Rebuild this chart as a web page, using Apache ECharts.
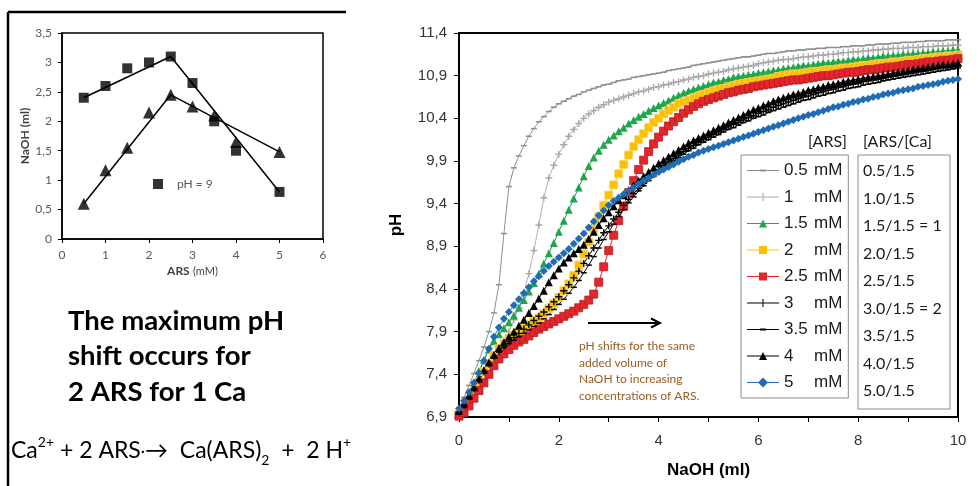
<!DOCTYPE html>
<html><head><meta charset="utf-8">
<script src="https://cdn.jsdelivr.net/npm/echarts/dist/echarts.min.js"></script>
<style>html,body{margin:0;padding:0;background:#fff}#c{width:978px;height:486px}</style>
</head><body><div id="c"></div><script>
// ---------- left small chart ----------
const arsMm = [0.5, 1, 1.5, 2, 2.5, 3, 3.5, 4, 5];
const naohAtPh9 = [2.4, 2.6, 2.9, 3.0, 3.1, 2.65, 2.0, 1.5, 0.8];
const naohTriangles = [0.6, 1.17, 1.55, 2.15, 2.45, 2.25, 2.1, 1.65, 1.48];
const fitX = [0.5, 2.5, 5];
const fitSquares = [2.4, 3.1, 0.8];
const fitTriangles = [0.6, 2.45, 1.48];

// ---------- right titration chart ----------
const naohMl = [0,0.1,0.2,0.3,0.4,0.5,0.6,0.7,0.8,0.9,1,1.1,1.2,1.3,1.4,1.5,1.6,1.7,1.8,1.9,2,2.1,2.2,2.3,2.4,2.5,2.6,2.7,2.8,2.9,3,3.1,3.2,3.3,3.4,3.5,3.6,3.7,3.8,3.9,4,4.1,4.2,4.3,4.4,4.5,4.6,4.7,4.8,4.9,5,5.1,5.2,5.3,5.4,5.5,5.6,5.7,5.8,5.9,6,6.1,6.2,6.3,6.4,6.5,6.6,6.7,6.8,6.9,7,7.1,7.2,7.3,7.4,7.5,7.6,7.7,7.8,7.9,8,8.1,8.2,8.3,8.4,8.5,8.6,8.7,8.8,8.9,9,9.1,9.2,9.3,9.4,9.5,9.6,9.7,9.8,9.9,10];
const ph05 = [7.00,7.13,7.27,7.41,7.56,7.72,7.90,8.12,8.45,9.05, 9.60,9.82,9.96,10.08,10.19,10.28,10.36,10.42,10.48,10.53, 10.57,10.60,10.63,10.66,10.68,10.71,10.73,10.75,10.77,10.79, 10.80,10.82,10.84,10.85,10.86,10.88,10.89,10.90,10.91,10.92, 10.93,10.94,10.96,10.97,10.98,10.99,11.00,11.02,11.03,11.04, 11.05,11.06,11.07,11.08,11.09,11.10,11.11,11.12,11.12,11.13, 11.14,11.15,11.16,11.16,11.17,11.18,11.19,11.19,11.20,11.20, 11.21,11.21,11.22,11.22,11.23,11.23,11.23,11.24,11.24,11.25, 11.25,11.25,11.26,11.26,11.27,11.27,11.27,11.28,11.28,11.29, 11.29,11.29,11.30,11.30,11.31,11.31,11.31,11.31,11.32,11.32, 11.32];
const ph1 = [6.96,7.03,7.10,7.17,7.24,7.32,7.41,7.50,7.62,7.76, 7.90,8.04,8.18,8.36,8.58,8.85,9.15,9.47,9.70,9.85, 9.98,10.09,10.19,10.27,10.34,10.40,10.45,10.49,10.53,10.56, 10.59,10.61,10.63,10.65,10.67,10.69,10.71,10.72,10.74,10.76, 10.77,10.79,10.80,10.82,10.83,10.85,10.86,10.88,10.89,10.90, 10.92,10.93,10.94,10.95,10.97,10.98,10.99,11.00,11.01,11.02, 11.04,11.05,11.06,11.07,11.08,11.09,11.09,11.10,11.11,11.12, 11.12,11.13,11.14,11.14,11.15,11.15,11.16,11.17,11.17,11.18, 11.18,11.19,11.19,11.20,11.20,11.21,11.21,11.22,11.22,11.22, 11.23,11.23,11.23,11.24,11.24,11.24,11.25,11.25,11.25,11.26, 11.26];
const ph15 = [6.95,7.02,7.15,7.30,7.44,7.57,7.69,7.79,7.87,7.94, 8.01,8.09,8.18,8.27,8.37,8.47,8.58,8.70,8.82,8.94, 9.07,9.20,9.33,9.46,9.59,9.72,9.84,9.94,10.02,10.09, 10.15,10.20,10.25,10.29,10.34,10.38,10.42,10.45,10.49,10.52, 10.55,10.58,10.61,10.64,10.67,10.70,10.72,10.74,10.76,10.78, 10.80,10.82,10.83,10.85,10.86,10.88,10.89,10.90,10.91,10.92, 10.93,10.94,10.95,10.96,10.97,10.98,10.99,11.00,11.01,11.02, 11.02,11.03,11.04,11.05,11.05,11.06,11.07,11.07,11.08,11.09, 11.09,11.10,11.11,11.11,11.12,11.13,11.13,11.14,11.14,11.15, 11.15,11.16,11.16,11.17,11.17,11.18,11.18,11.19,11.19,11.20, 11.20];
const ph2 = [6.93,6.98,7.06,7.19,7.31,7.43,7.53,7.62,7.70,7.76, 7.82,7.86,7.90,7.94,7.98,8.02,8.06,8.11,8.17,8.23, 8.30,8.38,8.46,8.56,8.68,8.81,8.95,9.10,9.25,9.38, 9.50,9.62,9.75,9.86,9.97,10.07,10.15,10.22,10.29,10.35, 10.40,10.45,10.49,10.53,10.57,10.59,10.61,10.64,10.66,10.68, 10.70,10.72,10.74,10.75,10.77,10.78,10.80,10.81,10.82,10.83, 10.84,10.85,10.86,10.87,10.89,10.90,10.91,10.92,10.92,10.93, 10.94,10.95,10.95,10.96,10.97,10.97,10.98,10.99,10.99,11.00, 11.01,11.02,11.02,11.03,11.04,11.04,11.05,11.06,11.06,11.07, 11.08,11.08,11.09,11.10,11.10,11.11,11.12,11.12,11.13,11.13, 11.14];
const ph25 = [6.91,6.95,7.03,7.12,7.21,7.30,7.40,7.50,7.58,7.64, 7.69,7.74,7.78,7.81,7.85,7.89,7.93,7.96,7.99,8.02, 8.05,8.08,8.11,8.14,8.18,8.22,8.27,8.34,8.48,8.66, 8.85,9.03,9.20,9.37,9.53,9.67,9.80,9.91,10.01,10.10, 10.18,10.25,10.31,10.36,10.41,10.46,10.50,10.54,10.57,10.60, 10.62,10.64,10.66,10.68,10.70,10.71,10.73,10.74,10.75,10.77, 10.78,10.79,10.80,10.81,10.82,10.83,10.84,10.85,10.85,10.86, 10.87,10.88,10.89,10.90,10.90,10.91,10.92,10.93,10.94,10.94, 10.95,10.96,10.97,10.97,10.98,10.99,11.00,11.00,11.01,11.02, 11.03,11.03,11.04,11.05,11.06,11.06,11.07,11.08,11.08,11.09, 11.10];
const ph3 = [6.96,7.04,7.13,7.23,7.33,7.43,7.52,7.60,7.67,7.73, 7.78,7.83,7.88,7.93,7.98,8.03,8.08,8.13,8.19,8.25, 8.31,8.38,8.45,8.53,8.61,8.70,8.79,8.88,8.97,9.06, 9.14,9.22,9.30,9.38,9.45,9.52,9.58,9.64,9.70,9.75, 9.80,9.85,9.89,9.93,9.97,10.01,10.05,10.08,10.12,10.15, 10.18,10.21,10.24,10.27,10.30,10.33,10.35,10.38,10.41,10.43, 10.46,10.48,10.50,10.53,10.55,10.57,10.59,10.61,10.63,10.65, 10.66,10.68,10.70,10.71,10.73,10.74,10.76,10.77,10.79,10.80, 10.81,10.83,10.84,10.85,10.86,10.87,10.89,10.90,10.91,10.92, 10.93,10.94,10.95,10.96,10.97,10.98,10.99,11.00,11.00,11.01, 11.02];
const ph35 = [6.95,7.03,7.12,7.22,7.32,7.42,7.51,7.59,7.66,7.71, 7.76,7.80,7.84,7.88,7.92,7.96,8.00,8.05,8.10,8.16, 8.22,8.28,8.35,8.42,8.50,8.59,8.68,8.78,8.88,8.98, 9.07,9.16,9.25,9.33,9.41,9.48,9.55,9.61,9.67,9.72, 9.77,9.82,9.86,9.90,9.94,9.98,10.02,10.05,10.09,10.12, 10.15,10.18,10.21,10.24,10.27,10.29,10.32,10.35,10.37,10.40, 10.42,10.44,10.47,10.49,10.51,10.53,10.55,10.57,10.59,10.61, 10.62,10.64,10.66,10.67,10.69,10.70,10.72,10.73,10.75,10.76, 10.77,10.79,10.80,10.81,10.82,10.84,10.85,10.86,10.87,10.88, 10.89,10.90,10.91,10.92,10.93,10.94,10.95,10.96,10.97,10.98, 10.99];
const ph4 = [6.97,7.05,7.15,7.25,7.35,7.45,7.54,7.63,7.71,7.78, 7.84,7.90,7.97,8.04,8.12,8.20,8.29,8.38,8.48,8.56, 8.64,8.71,8.77,8.82,8.87,8.92,8.99,9.07,9.15,9.23, 9.30,9.37,9.44,9.50,9.56,9.62,9.67,9.72,9.77,9.82, 9.87,9.91,9.95,9.99,10.03,10.07,10.11,10.14,10.17,10.20, 10.23,10.26,10.29,10.32,10.35,10.38,10.41,10.44,10.47,10.50, 10.52,10.55,10.57,10.60,10.62,10.64,10.66,10.68,10.69,10.71, 10.73,10.74,10.76,10.77,10.79,10.80,10.81,10.83,10.84,10.85, 10.86,10.87,10.88,10.89,10.90,10.91,10.92,10.93,10.94,10.95, 10.96,10.97,10.98,10.99,11.00,11.01,11.02,11.03,11.03,11.04, 11.05];
const ph5 = [7.00,7.09,7.19,7.30,7.42,7.56,7.70,7.84,7.95,8.05, 8.13,8.21,8.28,8.35,8.42,8.49,8.55,8.61,8.67,8.72, 8.77,8.82,8.87,8.93,8.99,9.05,9.12,9.19,9.26,9.32, 9.38,9.43,9.47,9.51,9.55,9.59,9.63,9.67,9.70,9.74, 9.77,9.80,9.83,9.86,9.89,9.92,9.95,9.97,10.00,10.02, 10.04,10.06,10.08,10.10,10.12,10.14,10.16,10.18,10.20,10.22, 10.24,10.26,10.28,10.30,10.32,10.34,10.36,10.38,10.40,10.42, 10.44,10.45,10.47,10.49,10.51,10.53,10.54,10.56,10.57,10.59, 10.60,10.62,10.63,10.65,10.66,10.68,10.69,10.70,10.72,10.73, 10.74,10.75,10.77,10.78,10.79,10.80,10.81,10.83,10.84,10.85, 10.86];

const seriesNames = ['0.5 mM', '1 mM', '1.5 mM', '2 mM', '2.5 mM', '3 mM', '3.5 mM', '4 mM', '5 mM'];
const ratioLabels = ['0.5/1.5', '1.0/1.5', '1.5/1.5 = 1', '2.0/1.5', '2.5/1.5', '3.0/1.5 = 2', '3.5/1.5', '4.0/1.5', '5.0/1.5'];
const textLines = ['The maximum pH', 'shift occurs for', '2 ARS for 1 Ca'];
const noteLines = ['pH shifts for the same', 'added volume of', 'NaOH to increasing', 'concentrations of ARS.'];

const phSeries = [ph05, ph1, ph15, ph2, ph25, ph3, ph35, ph4, ph5];

const PLUS = 'path://M4,0H6V4H10V6H6V10H4V6H0V4H4Z';
const LINE = 'M0,6.5H32V7.5H0Z';
const icons = {
  dash: 'path://' + LINE + 'M13,6H19V8H13Z',
  tick: 'path://' + LINE + 'M15.5,3H16.5V11H15.5Z',
  tri: 'path://' + LINE + 'M12,11L16,3L20,11Z',
  sq: 'path://' + LINE + 'M12,3H20V11H12Z',
  dia: 'path://' + LINE + 'M16,2L21,7L16,12L11,7Z'
};
const styles = [
  {line: '#8f8f8f', fill: '#8f8f8f', symbol: 'rect', size: [6, 1.5], icon: icons.dash},
  {line: '#b3b3b3', fill: '#a8a8a8', symbol: PLUS, size: 7, icon: icons.tick},
  {line: '#1e9e48', fill: '#1ea64b', symbol: 'triangle', size: 8, icon: icons.tri},
  {line: '#f2b800', fill: '#ffc000', border: '#f5d36a', symbol: 'rect', size: 8, icon: icons.sq},
  {line: '#d42a2a', fill: '#e3262b', border: '#b81a1f', symbol: 'rect', size: 8, icon: icons.sq},
  {line: '#000', fill: '#000', symbol: PLUS, size: 7, icon: icons.tick},
  {line: '#000', fill: '#000', symbol: 'rect', size: [6, 1.5], icon: icons.dash},
  {line: '#000', fill: '#000', symbol: 'triangle', size: 8, icon: icons.tri},
  {line: '#3f7fb8', fill: '#1f6cb3', symbol: 'diamond', size: 8, icon: icons.dia}
];

const chart = echarts.init(document.getElementById('c'), null, {renderer: 'canvas', width: 978, height: 486});

const rightSeries = seriesNames.map((name, k) => ({
  name, type: 'line', xAxisIndex: 1, yAxisIndex: 1, clip: false,
  data: naohMl.map((x, i) => [x, phSeries[k][i]]),
  symbol: styles[k].symbol, symbolSize: styles[k].size,
  itemStyle: {color: styles[k].fill, borderColor: styles[k].border || styles[k].fill, borderWidth: styles[k].border ? 0.8 : 0},
  lineStyle: {color: styles[k].line, width: 1},
  emphasis: {disabled: true}
}));

const graphics = [
  {type: 'line', shape: {x1: 8, y1: 12, x2: 346, y2: 12}, style: {stroke: '#000', lineWidth: 2.5}},
  {type: 'line', shape: {x1: 8, y1: 12, x2: 8, y2: 486}, style: {stroke: '#000', lineWidth: 2.5}},
  {type: 'rect', shape: {x: 858, y: 155, width: 92, height: 254}, style: {fill: 'none', stroke: '#8c8c8c', lineWidth: 1}},
  {type: 'text', x: 808, y: 142, style: {text: '[ARS]', font: '16px Lato', fill: '#1a1a1a', verticalAlign: 'middle'}},
  {type: 'text', x: 863, y: 142, style: {text: '[ARS/[Ca]', font: '16px Lato', fill: '#1a1a1a', verticalAlign: 'middle'}},
  {type: 'line', shape: {x1: 588, y1: 323, x2: 659, y2: 323}, style: {stroke: '#000', lineWidth: 2}},
  {type: 'polyline', shape: {points: [[651, 318.5], [660, 323], [651, 327.5]]}, style: {stroke: '#000', lineWidth: 2, fill: 'none'}}
];
ratioLabels.forEach((t, i) => graphics.push({type: 'text', x: 863, y: 171 + i * 27.5, style: {text: t, font: '16px Lato', fill: '#1a1a1a', verticalAlign: 'middle'}}));
textLines.forEach((t, i) => graphics.push({type: 'text', x: 68, y: 321 + i * 35.5, style: {text: t, font: 'bold 27.5px Lato', fill: '#000', verticalAlign: 'middle'}}));
noteLines.forEach((t, i) => graphics.push({type: 'text', x: 579, y: 346 + i * 16.7, style: {text: t, font: '12px Lato', fill: '#9a5b1e', verticalAlign: 'middle'}}));
graphics.push({type: 'text', x: 11, y: 451, style: {
  text: '{t|Ca}{sup|2+}{t| + 2 ARS}{d|·}{t|→  Ca(ARS)}{sub|2}{t|  +  2 H}{sup|+}',
  verticalAlign: 'middle',
  rich: {
    t: {font: '23px Lato', fill: '#000', lineHeight: 32},
    d: {font: '16px Lato', fill: '#000', lineHeight: 32},
    sup: {font: '14px Lato', fill: '#000', lineHeight: 14, verticalAlign: 'top'},
    sub: {font: '14px Lato', fill: '#000', lineHeight: 14, verticalAlign: 'bottom'}
  }
}});

const option = {
  backgroundColor: '#fff',
  animation: false,
  grid: [
    {left: 62, top: 33, width: 261, height: 206, show: true, borderColor: '#000', borderWidth: 1.5, containLabel: false},
    {left: 459, top: 33, width: 499, height: 384, show: true, borderColor: '#000', borderWidth: 2, containLabel: false}
  ],
  xAxis: [
    {gridIndex: 0, type: 'value', min: 0, max: 6, interval: 1,
     axisLine: {onZero: false, lineStyle: {color: '#000', width: 1.5}},
     axisTick: {length: 4, lineStyle: {color: '#000'}},
     axisLabel: {color: '#595959', fontSize: 12, fontFamily: 'Lato', margin: 10},
     splitLine: {show: false},
     name: '{b|ARS} {n|(mM)}', nameLocation: 'middle', nameGap: 26,
     nameTextStyle: {rich: {b: {fontWeight: 'bold', fontSize: 12, fontFamily: 'Lato', color: '#404040'}, n: {fontSize: 11, fontFamily: 'Lato', color: '#404040'}}}},
    {gridIndex: 1, type: 'value', min: 0, max: 10, interval: 1,
     axisLine: {onZero: false, lineStyle: {color: '#000', width: 2}},
     axisTick: {length: 5, lineStyle: {color: '#000'}},
     axisLabel: {color: '#333', fontSize: 15, fontFamily: 'Liberation Sans', margin: 16, formatter: v => (v % 2 === 0 ? String(v) : '')},
     splitLine: {show: false},
     name: 'NaOH (ml)', nameLocation: 'middle', nameGap: 45,
     nameTextStyle: {fontWeight: 'bold', fontSize: 17, fontFamily: 'Liberation Sans', color: '#000'}}
  ],
  yAxis: [
    {gridIndex: 0, type: 'value', min: 0, max: 3.5, interval: 0.5,
     axisLine: {onZero: false, lineStyle: {color: '#000', width: 1.5}},
     axisTick: {length: 4, lineStyle: {color: '#000'}},
     axisLabel: {color: '#595959', fontSize: 12, fontFamily: 'Lato', margin: 10, formatter: v => String(Math.round(v * 10) / 10).replace('.', ',')},
     splitLine: {show: false},
     name: 'NaOH (ml)', nameLocation: 'middle', nameGap: 31,
     nameTextStyle: {fontWeight: 'bold', fontSize: 12, fontFamily: 'Lato', color: '#404040'}},
    {gridIndex: 1, type: 'value', min: 6.9, max: 11.4, interval: 0.5,
     axisLine: {onZero: false, lineStyle: {color: '#000', width: 2}},
     axisTick: {length: 5, lineStyle: {color: '#000'}},
     axisLabel: {color: '#333', fontSize: 15, fontFamily: 'Liberation Sans', margin: 12, formatter: v => v.toFixed(1).replace('.', ',')},
     splitLine: {show: false},
     name: 'pH', nameLocation: 'middle', nameGap: 54,
     nameTextStyle: {fontWeight: 'bold', fontSize: 17, fontFamily: 'Liberation Sans', color: '#000'}}
  ],
  legend: [
    {data: ['pH = 9'], left: 153, top: 178, itemWidth: 10, itemHeight: 10, icon: 'rect', selectedMode: false,
     textStyle: {color: '#595959', fontSize: 12, fontFamily: 'Lato', padding: [0, 0, 0, 9]}, padding: 0},
    {data: seriesNames.map((n, k) => ({name: n, icon: styles[k].icon})),
     left: 741, top: 155, orient: 'vertical', itemWidth: 32, itemHeight: 14, itemGap: 9.5,
     padding: [7, 6, 7, 6], borderColor: '#8c8c8c', borderWidth: 1, selectedMode: false,
     itemStyle: {borderWidth: 0}, lineStyle: {width: 0},
     formatter: name => { const p = name.split(' '); return '{n|' + p[0] + '}{u|' + p[1] + '}'; },
     textStyle: {rich: {
       n: {width: 30, fontSize: 17, lineHeight: 18, fontFamily: 'Liberation Sans', color: '#1a1a1a'},
       u: {fontSize: 17, lineHeight: 18, fontFamily: 'Liberation Sans', color: '#1a1a1a'}}}}
  ],
  series: [
    {name: 'pH = 9', type: 'scatter', xAxisIndex: 0, yAxisIndex: 0, symbol: 'rect', symbolSize: 10,
     itemStyle: {color: '#000'}, data: arsMm.map((x, i) => [x, naohAtPh9[i]]), z: 5},
    {name: 'triangles', type: 'scatter', xAxisIndex: 0, yAxisIndex: 0, symbol: 'triangle', symbolSize: 12,
     itemStyle: {color: '#000'}, data: arsMm.map((x, i) => [x, naohTriangles[i]]), z: 5},
    {name: 'fitSq', type: 'line', xAxisIndex: 0, yAxisIndex: 0, symbol: 'none', lineStyle: {color: '#000', width: 1.5},
     data: fitX.map((x, i) => [x, fitSquares[i]])},
    {name: 'fitTri', type: 'line', xAxisIndex: 0, yAxisIndex: 0, symbol: 'none', lineStyle: {color: '#000', width: 1.5},
     data: fitX.map((x, i) => [x, fitTriangles[i]])}
  ].concat(rightSeries),
  graphic: graphics
};
chart.setOption(option);
</script></body></html>
